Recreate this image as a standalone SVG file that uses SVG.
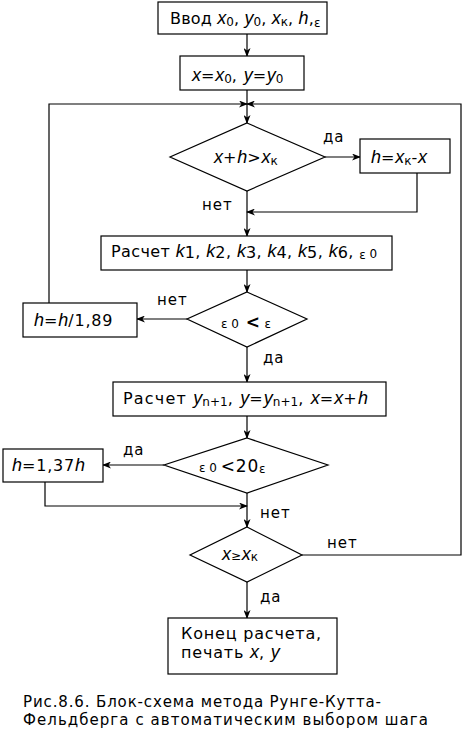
<svg xmlns="http://www.w3.org/2000/svg" width="463" height="753" viewBox="0 0 463 753">
<style>
.b{fill:#fff;stroke:#000;stroke-width:1.2}
.c{fill:none;stroke:#000;stroke-width:1.2}
.t{font-family:"DejaVu Sans",sans-serif;font-size:16px;fill:#000;letter-spacing:0.8px}
.v{font-family:"Liberation Sans",Arial,sans-serif;font-style:italic;font-size:18px;letter-spacing:0}
.s{font-size:12px;letter-spacing:0}
.l{font-family:"DejaVu Sans",sans-serif;font-size:15px;fill:#000;letter-spacing:1px}
.cap{font-family:"DejaVu Sans",sans-serif;font-size:15px;fill:#000}
</style>
<defs>
<marker id="a" markerWidth="9" markerHeight="7" refX="8" refY="3.5" orient="auto" markerUnits="userSpaceOnUse">
<path d="M0,0 L9,3.5 L0,7 L2.5,3.5 z" fill="#000"/>
</marker>
</defs>
<rect width="463" height="753" fill="#fff"/>
<g id="connectors">
<path class="c" d="M247,34 V56" marker-end="url(#a)"/>
<path class="c" d="M247,90 V123" marker-end="url(#a)"/>
<path class="c" d="M49,303 V104 H247" marker-end="url(#a)"/>
<path class="c" d="M302,555 H461 V104 H247" marker-end="url(#a)"/>
<path class="c" d="M325,157 H360" marker-end="url(#a)"/>
<path class="c" d="M417,173 V212 H247" marker-end="url(#a)"/>
<path class="c" d="M247,191 V236" marker-end="url(#a)"/>
<path class="c" d="M247,270 V292" marker-end="url(#a)"/>
<path class="c" d="M187,319 H137" marker-end="url(#a)"/>
<path class="c" d="M247,347 V382" marker-end="url(#a)"/>
<path class="c" d="M247,416 V438" marker-end="url(#a)"/>
<path class="c" d="M164,465 H103" marker-end="url(#a)"/>
<path class="c" d="M45,482 V506 H247" marker-end="url(#a)"/>
<path class="c" d="M247,493 V527" marker-end="url(#a)"/>
<path class="c" d="M247,582 V618" marker-end="url(#a)"/>
<text class="l" x="323" y="142">да</text>
<text class="l" x="202" y="210">нет</text>
<text class="l" x="157" y="305">нет</text>
<text class="l" x="263" y="363">да</text>
<text class="l" x="123" y="455">да</text>
<text class="l" x="260" y="518">нет</text>
<text class="l" x="327" y="548">нет</text>
<text class="l" x="260" y="602">да</text>
</g>
<g id="input">
<rect class="b" x="158" y="2" width="169" height="32"/>
<text class="t" x="170" y="24" style="letter-spacing:0.2px">Ввод <tspan class="v">x</tspan><tspan class="s" dy="2">0</tspan><tspan dy="-2">, </tspan><tspan class="v">y</tspan><tspan class="s" dy="2">0</tspan><tspan dy="-2">, </tspan><tspan class="v">x</tspan><tspan class="s" dy="2">к</tspan><tspan dy="-2">, </tspan><tspan class="v">h</tspan><tspan>,</tspan><tspan class="s" dy="3" font-size="11">ε</tspan></text>
</g>
<g id="init">
<rect class="b" x="180" y="56" width="124" height="34"/>
<text class="t" x="192" y="81"><tspan class="v">x</tspan>=<tspan class="v">x</tspan><tspan class="s" dy="2">0</tspan><tspan dy="-2">, </tspan><tspan class="v">y</tspan>=<tspan class="v">y</tspan><tspan class="s" dy="2">0</tspan></text>
</g>
<g id="cond1">
<polygon class="b" points="247,123 325,157 247,191 170,157"/>
<text class="t" x="214" y="163"><tspan class="v">x</tspan>+<tspan class="v">h</tspan>&gt;<tspan class="v">x</tspan><tspan class="s" dy="2">к</tspan></text>
</g>
<g id="setH">
<rect class="b" x="360" y="139" width="90" height="34"/>
<text class="t" x="371" y="163"><tspan class="v">h</tspan>=<tspan class="v">x</tspan><tspan class="s" dy="2">к</tspan><tspan dy="-2">-</tspan><tspan class="v">x</tspan></text>
</g>
<g id="calcK">
<rect class="b" x="101" y="236" width="291" height="34"/>
<text class="t" x="111" y="257" style="letter-spacing:0.4px">Расчет <tspan class="v">k</tspan><tspan dy="1">1</tspan><tspan dy="-1">, </tspan><tspan class="v">k</tspan><tspan dy="1">2</tspan><tspan dy="-1">, </tspan><tspan class="v">k</tspan><tspan dy="1">3</tspan><tspan dy="-1">, </tspan><tspan class="v">k</tspan><tspan dy="1">4</tspan><tspan dy="-1">, </tspan><tspan class="v">k</tspan><tspan dy="1">5</tspan><tspan dy="-1">, </tspan><tspan class="v">k</tspan><tspan dy="1">6</tspan><tspan dy="-1">, </tspan><tspan class="s" dy="2">ε</tspan><tspan class="s" dy="-1"> 0</tspan></text>
</g>
<g id="cond2">
<polygon class="b" points="247,292 307,319 247,347 187,319"/>
<text class="t" x="221" y="328"><tspan class="s">ε 0</tspan><tspan font-weight="bold" font-size="17"> &lt;</tspan><tspan class="s"> ε</tspan></text>
</g>
<g id="reduceH">
<rect class="b" x="23" y="303" width="114" height="34"/>
<text class="t" x="34" y="326"><tspan class="v">h</tspan>=<tspan class="v">h</tspan>/1,89</text>
</g>
<g id="calcY">
<rect class="b" x="113" y="382" width="273" height="34"/>
<text class="t" x="123" y="404" style="letter-spacing:1.2px">Расчет <tspan class="v">y</tspan><tspan class="s" dy="2" font-size="13">n+1</tspan><tspan dy="-2">, </tspan><tspan class="v">y</tspan>=<tspan class="v">y</tspan><tspan class="s" dy="2" font-size="13">n+1</tspan><tspan dy="-2">, </tspan><tspan class="v">x</tspan>=<tspan class="v">x</tspan>+<tspan class="v">h</tspan></text>
</g>
<g id="cond3">
<polygon class="b" points="247,438 328,465 247,493 164,465"/>
<text class="t" x="199" y="472"><tspan class="s">ε 0 </tspan><tspan font-size="17">&lt;20</tspan><tspan class="s" dy="1">ε</tspan></text>
</g>
<g id="increaseH">
<rect class="b" x="3" y="449" width="100" height="33"/>
<text class="t" x="12" y="471"><tspan class="v">h</tspan>=1,37<tspan class="v">h</tspan></text>
</g>
<g id="cond4">
<polygon class="b" points="247,527 302,555 247,582 190,555"/>
<text class="t" x="222" y="560"><tspan class="v">x</tspan><tspan font-size="12">≥</tspan><tspan class="v">x</tspan><tspan class="s" dy="1">к</tspan></text>
</g>
<g id="end">
<rect class="b" x="168" y="618" width="169" height="56"/>
<text class="t" x="181" y="639">Конец расчета,</text>
<text class="t" x="181" y="658">печать <tspan class="v">x</tspan>, <tspan class="v">y</tspan></text>
</g>
<g id="caption">
<text class="cap" x="23" y="707" textLength="358" lengthAdjust="spacing">Рис.8.6. Блок-схема метода Рунге-Кутта-</text>
<text class="cap" x="23" y="725" textLength="405" lengthAdjust="spacing">Фельдберга с автоматическим выбором шага</text>
</g>
</svg>
